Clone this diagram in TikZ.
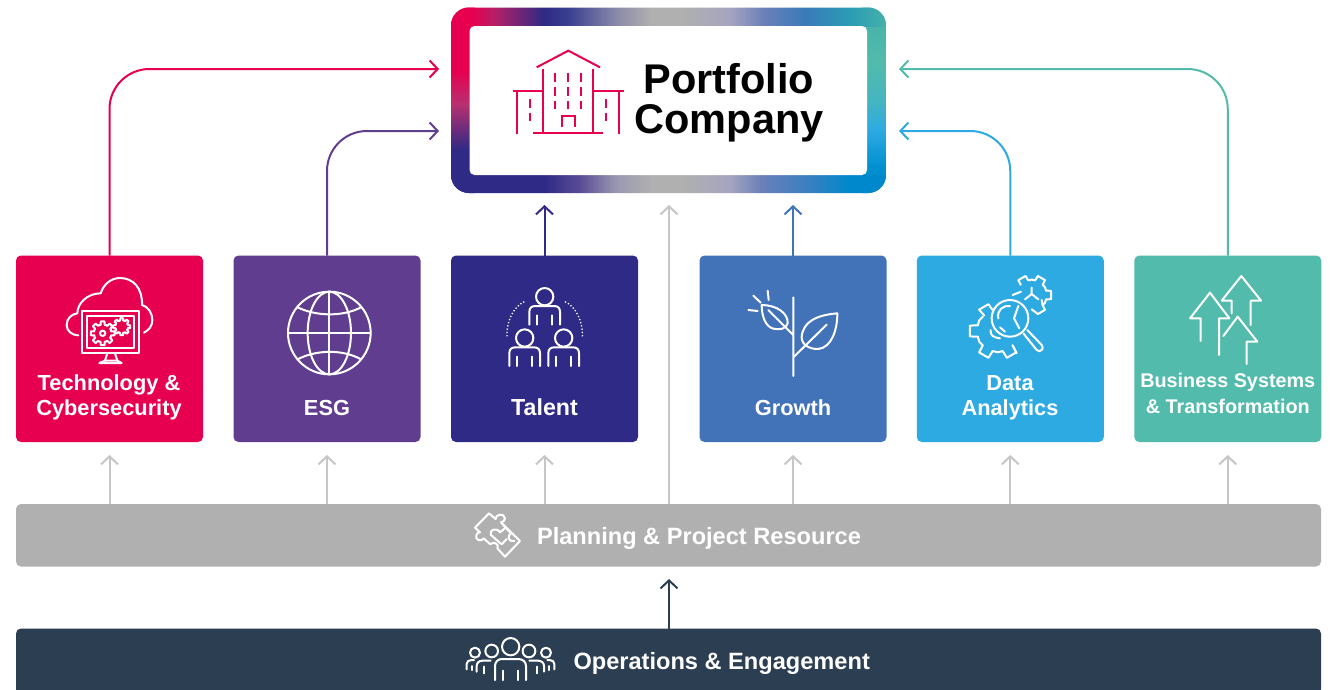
\documentclass[tikz,border=0pt]{standalone}
\usepackage{fontspec}
\setmainfont{Liberation Sans}
\usetikzlibrary{arrows.meta,calc}
\definecolor{cTech}{HTML}{E6004F}
\definecolor{cEsg}{HTML}{613D8F}
\definecolor{cTal}{HTML}{2F2A85}
\definecolor{cGro}{HTML}{4272B8}
\definecolor{cDat}{HTML}{2DAAE1}
\definecolor{cBus}{HTML}{52BBAB}
\definecolor{cPlan}{HTML}{B0B0B0}
\definecolor{cGrey}{HTML}{C6C6C6}
\definecolor{cOps}{HTML}{2C3E52}
\definecolor{tA}{HTML}{E6004F}\definecolor{tB}{HTML}{B52066}\definecolor{tC}{HTML}{2E2A85}
\definecolor{tD}{HTML}{3A3F90}\definecolor{tE}{HTML}{8A8AA8}\definecolor{tF}{HTML}{B0B0B0}
\definecolor{tG}{HTML}{A5A5C0}\definecolor{tH}{HTML}{6A7FB8}\definecolor{tI}{HTML}{3A7AB8}
\definecolor{tJ}{HTML}{2A9CB5}\definecolor{tK}{HTML}{45B0AA}
\definecolor{bA}{HTML}{5A4A95}\definecolor{bB}{HTML}{9A98B0}\definecolor{bC}{HTML}{3D7FBF}\definecolor{bD}{HTML}{0088CC}
\definecolor{lB}{HTML}{B83070}
\definecolor{rA}{HTML}{52BBAB}\definecolor{rB}{HTML}{45B5C0}\definecolor{rC}{HTML}{2DAAE1}\definecolor{rD}{HTML}{0090D0}
% stops: 25bp = start of the path, 75bp = end of the path
\pgfdeclarehorizontalshading{ringtop}{100bp}{color(0bp)=(tA); color(25bp)=(tA); color(27.5bp)=(tA); color(30bp)=(tB); color(35.7bp)=(tC); color(38.5bp)=(tD); color(44bp)=(tE); color(48bp)=(tF); color(51.5bp)=(tF); color(57bp)=(tG); color(61bp)=(tH); color(65.7bp)=(tI); color(70.7bp)=(tJ); color(75bp)=(tK); color(100bp)=(tK)}
\pgfdeclarehorizontalshading{ringbot}{100bp}{color(0bp)=(tC); color(25bp)=(tC); color(35.7bp)=(tC); color(39.7bp)=(bA); color(44bp)=(bB); color(48bp)=(tF); color(51.5bp)=(tF); color(57bp)=(tG); color(60.7bp)=(tH); color(65.7bp)=(bC); color(70.7bp)=(bD); color(75bp)=(bD); color(100bp)=(bD)}
\pgfdeclareverticalshading{ringleft}{100bp}{color(0bp)=(tC); color(25bp)=(tC); color(36.6bp)=(tC); color(49bp)=(lB); color(58bp)=(tA); color(75bp)=(tA); color(100bp)=(tA)}
\pgfdeclareverticalshading{ringright}{100bp}{color(0bp)=(bD); color(25bp)=(bD); color(32bp)=(rD); color(42bp)=(rC); color(50bp)=(rB); color(60bp)=(rA); color(75bp)=(tK); color(100bp)=(tK)}
\tikzset{
  card/.style={rounded corners=5pt,minimum width=187pt,minimum height=186.5pt,inner sep=0pt,outer sep=0pt,fill=#1},
  bar/.style={rounded corners=5pt,minimum width=1305pt,inner sep=0pt,outer sep=0pt,fill=#1},
  conn/.style={line width=2pt,-{Straight Barb[length=8pt,width=17pt,line width=2pt]}},
  lbl/.style={text=white,font=\fontsize{21.8}{24.4}\selectfont\bfseries,align=center,inner sep=0pt,anchor=base},
  icon/.style={white,line width=2pt,line cap=round,line join=round},
  zoomed/.style={x=0.33333pt,y=-0.33333pt},
}
% centre x, centre y, outer radius, inner radius, spacing, half widths in degrees, list of angles
\newcommand{\gearteeth}[7]{%
  \foreach \ga in {#7}{%
    \draw[icon] ($(#1,#2)+(\ga-#6-5:#4)$) -- ($(#1,#2)+(\ga-#6:#3)$) -- ($(#1,#2)+(\ga+#6:#3)$) -- ($(#1,#2)+(\ga+#6+5:#4)$) -- ($(#1,#2)+(\ga+#5/2:#4*1.03)$) -- ($(#1,#2)+(\ga+#5-#6-5:#4)$);
  }}
\newcommand{\headbody}[6]{% cx, head y, head r, half width, shoulder y, bottom y
  \draw[icon] (#1,#2) circle[radius=#3];
  \draw[icon] ({#1-#4},#6) -- ({#1-#4},{#5+18}) .. controls ({#1-#4},{#5+6}) and ({#1-#4+6},#5) .. ({#1-#4+18},#5) -- ({#1+#4-18},#5) .. controls ({#1+#4-6},#5) and ({#1+#4},{#5+6}) .. ({#1+#4},{#5+18}) -- ({#1+#4},#6);
  \draw[icon] ({#1-#4*0.5},{#6-28}) -- ({#1-#4*0.5},#6) ({#1+#4*0.5},{#6-28}) -- ({#1+#4*0.5},#6);
}
\begin{document}
\begin{tikzpicture}[x=1pt,y=-1pt]
\useasboundingbox (0,0) rectangle (1333,689);
\fill[white] (0,0) rectangle (1333,689);
% gradient ring
\begin{scope}
  \clip[rounded corners=18pt] (451,7.5) rectangle (886,193);
  \shade[shading=ringleft] (451,7.5) rectangle (475,193);
  \shade[shading=ringright] (862,7.5) rectangle (886,193);
  \shade[shading=ringtop] (451,7.5) rectangle (886,26);
  \shade[shading=ringbot] (451,175) rectangle (886,193);
\end{scope}
\node[rounded corners=5pt,fill=white,minimum width=397.5pt,minimum height=149pt,inner sep=0pt,outer sep=0pt] (pcinner) at (668.25,100.5) {};
\node[inner sep=0pt,outer sep=0pt,minimum width=435pt,minimum height=185.5pt] (pc) at (668.5,100.25) {};
\node[text=black,font=\fontsize{41.5}{40.6}\selectfont\bfseries,align=center,inner sep=0pt,anchor=base] (pclabel) at (729,133.6) {Portfolio\\Company};
% cards
\node[card=cTech] (tech) at (109.5,348.75) {};
\node[card=cEsg] (esg) at (327,348.75) {};
\node[card=cTal] (tal) at (544.5,348.75) {};
\node[card=cGro] (gro) at (793,348.75) {};
\node[card=cDat] (dat) at (1010.25,348.75) {};
\node[card=cBus] (bus) at (1227.75,348.75) {};
\node[bar=cPlan,minimum height=62.5pt] (plan) at (668.5,535.25) {};
\node[bar=cOps,minimum height=66pt] (ops) at (668.5,661.5) {};
% labels
\node[lbl] (techl) at (109,415) {Technology \&\\Cybersecurity};
\node[lbl] (esgl) at (327,415) {ESG};
\node[lbl,font=\fontsize{23.2}{24}\selectfont\bfseries] (tall) at (544.5,415) {Talent};
\node[lbl] (grol) at (793,415) {Growth};
\node[lbl] (datl) at (1010,415) {Data\\Analytics};
\node[lbl,font=\fontsize{19.8}{25.6}\selectfont\bfseries] (busl) at (1227.75,413.3) {Business Systems\\\& Transformation};
\node[lbl,font=\fontsize{23.6}{26}\selectfont\bfseries] (planl) at (699,544.2) {Planning \& Project Resource};
\node[lbl,font=\fontsize{23.6}{26}\selectfont\bfseries] (opsl) at (721.7,669.2) {Operations \& Engagement};
% connector ends
\coordinate (inTech) at (439,69);
\coordinate (inEsg) at (439,131);
\coordinate (inDat) at (899,131);
\coordinate (inBus) at (899,69);
\coordinate (inTal) at (544.5,205);
\coordinate (inMid) at (669,205);
\coordinate (inGro) at (793,205);
\coordinate (upOps) at (669,579);
\foreach \n in {tech,esg,tal,gro,dat,bus}{\coordinate (up\n) at ($(\n.south)+(0,13)$);}
% connectors
\draw[conn,cTech,rounded corners=40pt] (tech.north) |- (inTech);
\draw[conn,cEsg,rounded corners=40pt] (esg.north) |- (inEsg);
\draw[conn,cDat,rounded corners=40pt] (dat.north) |- (inDat);
\draw[conn,cBus,rounded corners=40pt] (bus.north) |- (inBus);
\draw[conn,cTal] (tal.north) -- (inTal);
\draw[conn,cGro] (gro.north) -- (inGro);
\draw[conn,cGrey] (inMid |- plan.north) -- (inMid);
\foreach \n in {tech,esg,tal,gro,dat,bus}{\draw[conn,cGrey] (up\n |- plan.north) -- (up\n);}
\draw[conn,cOps] (upOps |- ops.north) -- (upOps);
% building icon
\begin{scope}[shift={(440,0)},zoomed,cTech,line width=2pt,line cap=butt]
  \draw (290,202) -- (385,152) -- (480,202);
  \draw (310,208) -- (310,400) (460,208) -- (460,400) (280,400) -- (490,400);
  \draw (218,273) -- (310,273) (462,273) -- (552,273) (232,273) -- (232,402) (538,273) -- (538,402);
  \foreach \wx in {345,385,423}{\draw (\wx,220) -- (\wx,245) (\wx,262) -- (\wx,287) (\wx,303) -- (\wx,328);}
  \foreach \wx in {271,497}{\draw (\wx,297) -- (\wx,323) (\wx,338) -- (\wx,364);}
  \draw (366,382) -- (366,347) -- (405,347) -- (405,382);
\end{scope}
% cloud icon
\begin{scope}[shift={(0,250)},zoomed]
  \draw[icon] (235,256) .. controls (215,256) and (200,242) .. (200,225) .. controls (200,205) and (215,192) .. (232,190) .. controls (232,160) and (262,130) .. (302,130) .. controls (312,100) and (335,84) .. (360,84) .. controls (400,84) and (428,115) .. (426,165) .. controls (445,170) and (457,190) .. (457,210) .. controls (457,228) and (447,240) .. (432,248);
  \draw[icon] (247,183) rectangle (417,310);
  \draw[icon] (262,197) rectangle (403,295);
  \draw[icon] (322,310) -- (315,332) (345,310) -- (352,332);
  \draw[icon] (298,339) -- (365,339) (298,339) -- (315,332) -- (352,332) -- (365,339);
  \gearteeth{308}{250}{36}{26}{45}{9}{0,45,...,315}
  \draw[icon] (308,250) circle[radius=8];
  \gearteeth{365}{230}{26}{19}{45}{9}{0,45,...,315}
\end{scope}
% globe icon
\begin{scope}[shift={(0,250)},zoomed]
  \draw[icon] (988,249) circle[x radius=124,y radius=124];
  \draw[icon] (988,249) circle[x radius=65,y radius=124];
  \draw[icon] (988,125) -- (988,373) (865,250) -- (1112,250);
  \draw[icon] (893,172) .. controls (950,200) and (1030,200) .. (1083,172);
  \draw[icon] (893,328) .. controls (950,298) and (1030,298) .. (1083,328);
\end{scope}
% talent icon
\begin{scope}[shift={(440,250)},zoomed]
  \headbody{314}{140}{26}{46}{168}{224}
  \headbody{254}{264}{26}{46}{292}{348}
  \headbody{371}{264}{26}{46}{292}{348}
  \draw[white,line width=1.3pt,dotted] (253,155) .. controls (220,170) and (198,215) .. (201,265);
  \draw[white,line width=1.3pt,dotted] (375,155) .. controls (408,170) and (430,215) .. (427,265);
\end{scope}
% growth icon
\begin{scope}[shift={(440,250)},zoomed]
  \draw[icon] (1060,142) -- (1060,378) (1060,322) -- (1160,224) (985,180) -- (1060,255);
  \draw[icon] (1192,190) .. controls (1130,195) and (1088,215) .. (1085,262) .. controls (1085,285) and (1110,298) .. (1135,297) .. controls (1175,292) and (1192,240) .. cycle;
  \draw[icon] (965,165) .. controls (1010,165) and (1045,190) .. (1043,220) .. controls (1040,238) and (1015,240) .. (1000,236) .. controls (975,230) and (965,195) .. cycle;
  \draw[icon] (940,137) -- (962,158) (983,122) -- (986,150) (925,180) -- (953,183);
\end{scope}
% data icon
\begin{scope}[shift={(900,250)},zoomed]
  \gearteeth{293}{243}{85}{62}{60}{11}{60,120,180}
  \draw[icon] ($(293,243)+(229:62)$) -- ($(293,243)+(240-11:85)$) -- ($(293,243)+(240+11:85)$) -- ($(293,243)+(256:66)$);
  \draw[icon] (350,310) -- ($(293,243)+(60-16:62)$);
  \gearteeth{395}{135}{60}{45}{60}{12}{240,300,0}
  \draw[icon] ($(395,135)+(60-17:45)$) -- ($(395,135)+(60-12:60)$) -- ($(395,135)+(60+12:60)$) -- (395,178);
  \draw[icon] ($(395,135)+(60-17:45)$) -- (425,150);
  \draw[icon] (363,125) -- (338,135);
  \draw[icon] (395,113) -- (395,132) (375,148) -- (395,132) -- (415,148);
  \fill[cDat] (330,205) circle[radius=55];
  \draw[icon] (330,205) circle[radius=55];
  \draw[icon] (295,205) .. controls (290,180) and (310,165) .. (330,168);
  \draw[icon] (355,168) -- (342,205) -- (358,235);
  \draw[icon] (300,232) -- (315,245);
  \draw[icon] (272,240) .. controls (270,255) and (278,262) .. (300,265);
  \draw[icon] (370,250) -- (410,300) .. controls (420,310) and (435,295) .. (425,285) -- (382,240);
\end{scope}
% business icon
\begin{scope}[shift={(900,250)},zoomed]
  \draw[icon] (902,273) -- (902,205) -- (870,205) -- (930,128) -- (988,205) -- (957,205) -- (957,315);
  \draw[icon] (995,190) -- (995,152) -- (965,152) -- (1024,78) -- (1083,152) -- (1052,152) -- (1052,225);
  \draw[icon] (970,258) -- (1013,200) -- (1072,275) -- (1040,275) -- (1040,342);
\end{scope}
% puzzle icon
\begin{scope}[shift={(465,505)},zoomed]
  \draw[icon] (30,68) -- (72,25) -- (92,42) .. controls (90,28) and (118,22) .. (120,40) .. controls (120,48) and (114,50) .. (108,52) -- (165,108) -- (120,155) -- (97,130) .. controls (105,120) and (85,105) .. (76,118) -- (56,100) .. controls (50,112) and (28,105) .. (34,90) .. controls (36,84) and (40,82) .. (45,82) -- cycle;
  \draw[icon] (108,52) -- (122,68) -- (105,82) .. controls (95,65) and (70,75) .. (78,90) -- (95,105);
  \draw[icon] (122,68) -- (138,85) .. controls (125,92) and (130,112) .. (148,108);
  \draw[icon] (95,105) -- (110,118) -- (125,102);
\end{scope}
% people icon
\begin{scope}[shift={(460,630)},zoomed]
  \draw[icon] (152,50) circle[radius=26];
  \draw[icon] (95,63) circle[radius=19];
  \draw[icon] (207,63) circle[radius=19];
  \draw[icon] (45,68) circle[radius=15];
  \draw[icon] (258,68) circle[radius=15];
  \draw[icon] (105,150) -- (105,108) .. controls (105,95) and (115,87) .. (125,87) -- (175,87) .. controls (188,87) and (198,95) .. (198,108) -- (198,150);
  \draw[icon] (128,122) -- (128,150) (175,122) -- (175,150);
  \draw[icon] (50,125) -- (50,108) .. controls (50,98) and (58,92) .. (68,92) -- (92,92);
  \draw[icon] (72,110) -- (72,130);
  \draw[icon] (252,125) -- (252,108) .. controls (252,98) and (244,92) .. (234,92) -- (208,92);
  \draw[icon] (230,110) -- (230,130);
  \draw[icon] (20,118) -- (20,102) .. controls (20,95) and (26,90) .. (34,90) -- (42,90);
  \draw[icon] (283,118) -- (283,102) .. controls (283,95) and (277,90) .. (269,90) -- (262,90);
  \draw[icon] (37,108) -- (37,120) (266,108) -- (266,120);
\end{scope}
\end{tikzpicture}
\end{document}
